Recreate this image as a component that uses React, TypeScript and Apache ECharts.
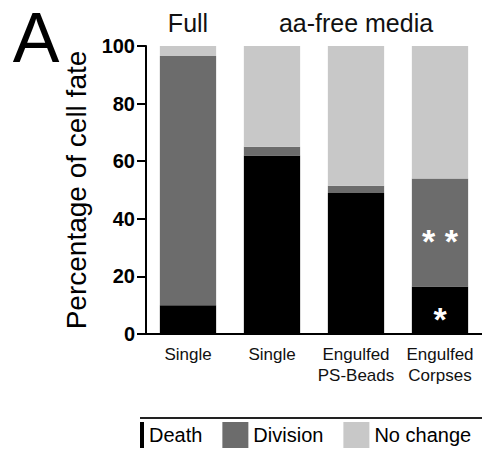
import React, { useEffect, useRef } from "react";
import * as echarts from "echarts";

const categories = ["Single", "Single", "Engulfed\nPS-Beads", "Engulfed\nCorpses"];
const death = [10, 62, 49, 16.5];
const division = [86.5, 3, 2.5, 37.5];
const noChange = [3.5, 35, 48.5, 46];
const deathMarks = ["", "", "", "*"];
const divisionMarks = ["", "", "", "* *"];
const yTicks = [0, 20, 40, 60, 80, 100];

const FONT = "'Liberation Sans', Arial, sans-serif";

export default function App() {
  const ref = useRef<HTMLDivElement>(null);
  useEffect(() => {
    if (!ref.current) return;
    const chart = echarts.init(ref.current, undefined, { renderer: "svg" });
    const markLabel = (marks: string[]) => ({
      show: true,
      position: "inside",
      formatter: (p: any) => marks[p.dataIndex],
      color: "#fff",
      fontSize: 34,
      fontWeight: "bold",
      fontFamily: FONT,
      offset: [0, 9],
    });
    chart.setOption({
      animation: false,
      textStyle: { fontFamily: FONT },
      grid: { left: 146, right: 0, top: 46, bottom: 118, containLabel: false },
      xAxis: {
        type: "category",
        data: categories,
        axisLine: { lineStyle: { color: "#000", width: 2 } },
        axisTick: { show: false },
        axisLabel: { interval: 0, color: "#111", fontSize: 17, lineHeight: 21, margin: 10, fontFamily: FONT },
      },
      yAxis: {
        type: "value",
        min: yTicks[0],
        max: yTicks[yTicks.length - 1],
        interval: 20,
        name: "Percentage of cell fate",
        nameLocation: "middle",
        nameGap: 52,
        nameTextStyle: { fontSize: 28, color: "#000", fontFamily: FONT },
        axisLine: { show: true, lineStyle: { color: "#000", width: 2 } },
        axisTick: { show: true, length: 9, lineStyle: { color: "#000", width: 2 } },
        axisLabel: { color: "#000", fontSize: 20, fontWeight: "bold", margin: 11, fontFamily: FONT },
        splitLine: { show: false },
      },
      legend: {
        data: ["Death", "Division", "No change"],
        left: 113,
        top: 417,
        itemWidth: 26,
        itemHeight: 26,
        itemGap: 20,
        icon: "rect",
        textStyle: { fontSize: 20, color: "#000", fontFamily: FONT },
      },
      series: [
        {
          name: "Death",
          type: "bar",
          stack: "fate",
          data: death,
          barCategoryGap: "33%",
          itemStyle: { color: "#000" },
          label: markLabel(deathMarks),
        },
        {
          name: "Division",
          type: "bar",
          stack: "fate",
          data: division,
          itemStyle: { color: "#6c6c6c" },
          label: markLabel(divisionMarks),
        },
        {
          name: "No change",
          type: "bar",
          stack: "fate",
          data: noChange,
          itemStyle: { color: "#c8c8c8" },
        },
      ],
      graphic: [
        {
          type: "text",
          x: 36,
          y: 38,
          style: { text: "A", fontSize: 70, fontFamily: FONT, fill: "#000", align: "center", verticalAlign: "middle" },
        },
        {
          type: "text",
          x: 188,
          y: 23,
          style: { text: "Full", fontSize: 25, fontFamily: FONT, fill: "#111", align: "center", verticalAlign: "middle" },
        },
        {
          type: "text",
          x: 356,
          y: 23,
          style: { text: "aa-free media", fontSize: 25, fontFamily: FONT, fill: "#111", align: "center", verticalAlign: "middle" },
        },
        {
          type: "rect",
          z: 100,
          shape: { x: 0, y: 405, width: 140, height: 47 },
          style: { fill: "#fff" },
        },
        {
          type: "line",
          z: 100,
          shape: { x1: 140, y1: 418, x2: 482, y2: 418 },
          style: { stroke: "#222", lineWidth: 2 },
        },
      ],
    });
    return () => chart.dispose();
  }, []);
  return <div ref={ref} style={{ position: "absolute", left: 0, top: 0, width: 482, height: 452, background: "#fff" }} />;
}
